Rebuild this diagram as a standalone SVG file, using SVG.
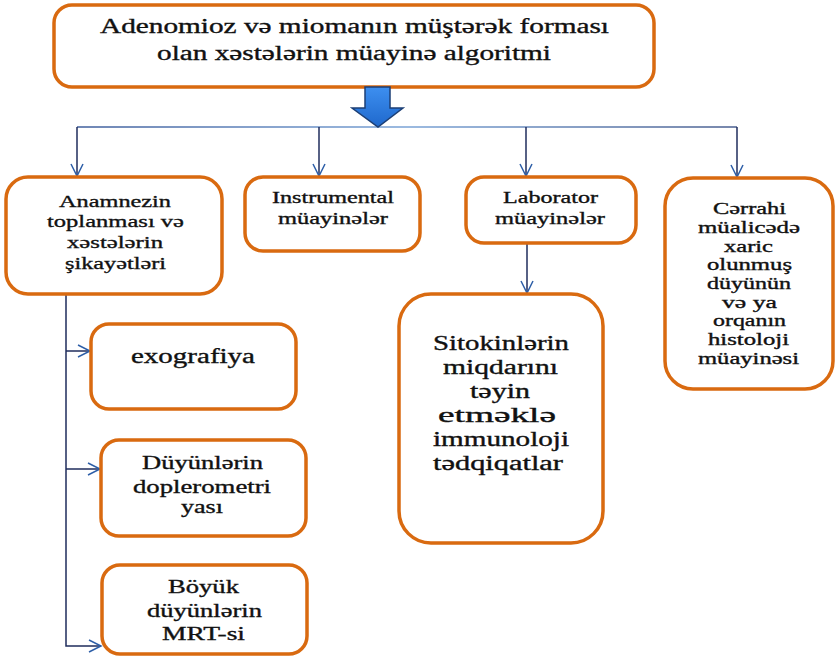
<svg xmlns="http://www.w3.org/2000/svg" width="835" height="656" viewBox="0 0 835 656">
<style>
.box{fill:#fff;stroke:#D96A10;stroke-width:3.5}
text{font-family:"Liberation Serif","DejaVu Serif","Times New Roman",serif;fill:#111;stroke:#111;stroke-width:0.35;text-anchor:middle}
.con{fill:none;stroke:#1F2D5C;stroke-width:1.5}
</style>
<defs>
<marker id="ah" markerUnits="userSpaceOnUse" markerWidth="16" markerHeight="16" refX="12" refY="6" orient="auto" overflow="visible">
<path d="M0,0 L12,6 L0,12" fill="none" stroke="#2E5FA8" stroke-width="1.5"/>
</marker>
<linearGradient id="hl" gradientUnits="userSpaceOnUse" x1="77" y1="0" x2="737" y2="0">
<stop offset="0" stop-color="#3f5e9c"/>
<stop offset="0.5" stop-color="#7aa3d6"/>
<stop offset="1" stop-color="#4a5f90"/>
</linearGradient>
<linearGradient id="ba" x1="0" y1="0" x2="0" y2="1">
<stop offset="0" stop-color="#3d8ff0"/>
<stop offset="1" stop-color="#1f68cc"/>
</linearGradient>
</defs>

<g id="connectors">
<path d="M77 127 H737" fill="none" stroke="url(#hl)" stroke-width="1.5"/>
<path class="con" d="M77 127 V176" marker-end="url(#ah)"/>
<path class="con" d="M319 127 V176" marker-end="url(#ah)"/>
<path class="con" d="M526 127 V176" marker-end="url(#ah)"/>
<path class="con" d="M737 127 V177" marker-end="url(#ah)"/>
<path class="con" d="M527 243 V293" marker-end="url(#ah)"/>
<path class="con" d="M30 294 H66 V646 H101" marker-end="url(#ah)"/>
<path class="con" d="M66 351 H90" marker-end="url(#ah)"/>
<path class="con" d="M66 469 H100" marker-end="url(#ah)"/>
</g>

<g id="title">
<rect class="box" x="54" y="5" width="600" height="82" rx="18"/>
<text x="354.5" y="33" font-size="20" textLength="509" lengthAdjust="spacingAndGlyphs">Adenomioz və miomanın müştərək forması</text>
<text x="354" y="60" font-size="20" textLength="394" lengthAdjust="spacingAndGlyphs">olan xəstələrin müayinə algoritmi</text>
</g>

<g id="blockArrow">
<polygon points="365,87 390,87 390,108 403,108 378,127 352,108 365,108" fill="url(#ba)" stroke="#1C3F75" stroke-width="1.5" stroke-linejoin="miter"/>
</g>

<g id="anamnez">
<rect class="box" x="6" y="177" width="216" height="117" rx="22"/>
<text x="115" y="207" font-size="17.5" textLength="112" lengthAdjust="spacingAndGlyphs">Anamnezin</text>
<text x="115.5" y="227" font-size="17.5" textLength="137" lengthAdjust="spacingAndGlyphs">toplanması və</text>
<text x="115" y="248" font-size="17.5" textLength="96" lengthAdjust="spacingAndGlyphs">xəstələrin</text>
<text x="115.5" y="269" font-size="17.5" textLength="101" lengthAdjust="spacingAndGlyphs">şikayətləri</text>
</g>

<g id="instrumental">
<rect class="box" x="245" y="177" width="175" height="74" rx="18"/>
<text x="333" y="203" font-size="17" textLength="122" lengthAdjust="spacingAndGlyphs">Instrumental</text>
<text x="333" y="224" font-size="17" textLength="110" lengthAdjust="spacingAndGlyphs">müayinələr</text>
</g>

<g id="laborator">
<rect class="box" x="466" y="177" width="170" height="66" rx="18"/>
<text x="550.5" y="203" font-size="17" textLength="95" lengthAdjust="spacingAndGlyphs">Laborator</text>
<text x="550" y="224" font-size="17" textLength="110" lengthAdjust="spacingAndGlyphs">müayinələr</text>
</g>

<g id="cerrahi">
<rect class="box" x="665" y="178" width="168" height="211" rx="28"/>
<text x="749.5" y="214" font-size="16" textLength="73" lengthAdjust="spacingAndGlyphs">Cərrahi</text>
<text x="749" y="233" font-size="16" textLength="102" lengthAdjust="spacingAndGlyphs">müalicədə</text>
<text x="748.5" y="251.5" font-size="16" textLength="49" lengthAdjust="spacingAndGlyphs">xaric</text>
<text x="749.5" y="270" font-size="16" textLength="85" lengthAdjust="spacingAndGlyphs">olunmuş</text>
<text x="749" y="289" font-size="16" textLength="84" lengthAdjust="spacingAndGlyphs">düyünün</text>
<text x="749.5" y="307.5" font-size="16" textLength="55" lengthAdjust="spacingAndGlyphs">və ya</text>
<text x="749.5" y="326" font-size="16" textLength="73" lengthAdjust="spacingAndGlyphs">orqanın</text>
<text x="748.5" y="345" font-size="16" textLength="81" lengthAdjust="spacingAndGlyphs">histoloji</text>
<text x="748.5" y="363.5" font-size="16" textLength="101" lengthAdjust="spacingAndGlyphs">müayinəsi</text>
</g>

<g id="sitokin">
<rect class="box" x="399" y="294" width="204" height="249" rx="32"/>
<text x="501" y="350" font-size="20" textLength="136" lengthAdjust="spacingAndGlyphs">Sitokinlərin</text>
<text x="500.5" y="374" font-size="20" textLength="115" lengthAdjust="spacingAndGlyphs">miqdarını</text>
<text x="500" y="398" font-size="20" textLength="60" lengthAdjust="spacingAndGlyphs">təyin</text>
<text x="497" y="422" font-size="20" textLength="118" lengthAdjust="spacingAndGlyphs">etməklə</text>
<text x="501" y="446" font-size="20" textLength="136" lengthAdjust="spacingAndGlyphs">immunoloji</text>
<text x="498" y="470" font-size="20" textLength="130" lengthAdjust="spacingAndGlyphs">tədqiqatlar</text>
</g>

<g id="exografiya">
<rect class="box" x="91" y="324" width="205" height="85" rx="18"/>
<text x="193" y="363" font-size="20" textLength="124" lengthAdjust="spacingAndGlyphs">exografiya</text>
</g>

<g id="doplerometriya">
<rect class="box" x="101" y="440" width="205" height="96" rx="18"/>
<text x="202.5" y="469" font-size="19" textLength="121" lengthAdjust="spacingAndGlyphs">Düyünlərin</text>
<text x="202" y="493" font-size="19" textLength="138" lengthAdjust="spacingAndGlyphs">doplerometri</text>
<text x="202" y="513" font-size="19" textLength="42" lengthAdjust="spacingAndGlyphs">yası</text>
</g>

<g id="mrt">
<rect class="box" x="102" y="565" width="205" height="89" rx="18"/>
<text x="203.5" y="593" font-size="19" textLength="71" lengthAdjust="spacingAndGlyphs">Böyük</text>
<text x="204.5" y="617" font-size="19" textLength="115" lengthAdjust="spacingAndGlyphs">düyünlərin</text>
<text x="203.5" y="640" font-size="19" textLength="83" lengthAdjust="spacingAndGlyphs">MRT-si</text>
</g>
</svg>
